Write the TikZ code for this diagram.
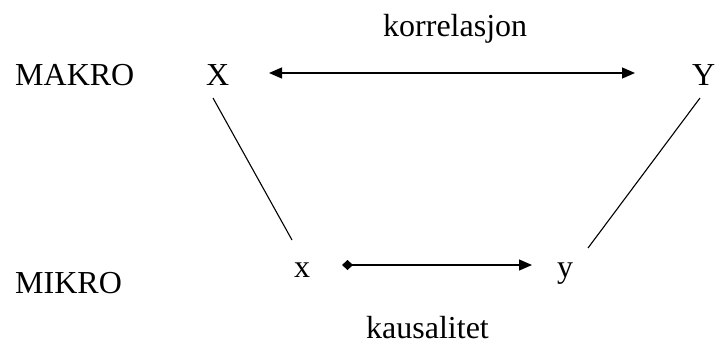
\documentclass[tikz,border=0pt]{standalone}
\usepackage{fontspec}
\setmainfont{Liberation Serif}
\usetikzlibrary{arrows.meta}
\begin{document}
\begin{tikzpicture}[x=1pt,y=-1pt,
  lbl/.style={inner sep=0pt,anchor=base west,font=\fontsize{32}{38}\selectfont},
  link/.style={line width=1.1pt},
  rel/.style={line width=1.3pt}]
\useasboundingbox (0,0) rectangle (717,345);
\node[lbl] (kor) at (383,37) {korrelasjon};
\node[lbl] (makro) at (15,85) {MAKRO};
\node[lbl] (X) at (206,85) {X};
\node[lbl] (Y) at (692,85) {Y};
\node[lbl] (mikro) at (15,293) {MIKRO};
\node[lbl] (x) at (294,277) {x};
\node[lbl] (y) at (557,277) {y};
\node[lbl] (kau) at (366,338) {kausalitet};
\coordinate (Xr) at (269,73);
\coordinate (Yl) at (635,73);
\coordinate (Xd) at (213,98);
\coordinate (xu) at (292,240);
\coordinate (Yd) at (700,98);
\coordinate (yu) at (588,248);
\coordinate (xr) at (342,265);
\coordinate (yl) at (532,265);
\draw[rel,{Triangle[length=13pt,width=11pt]}-{Triangle[length=13pt,width=11pt]}] (Xr) -- (Yl);
\draw[rel,{Diamond[length=11pt,width=10pt]}-{Triangle[length=13pt,width=11pt]}] (xr) -- (yl);
\draw[link] (Xd) -- (xu);
\draw[link] (Yd) -- (yu);
\end{tikzpicture}
\end{document}
